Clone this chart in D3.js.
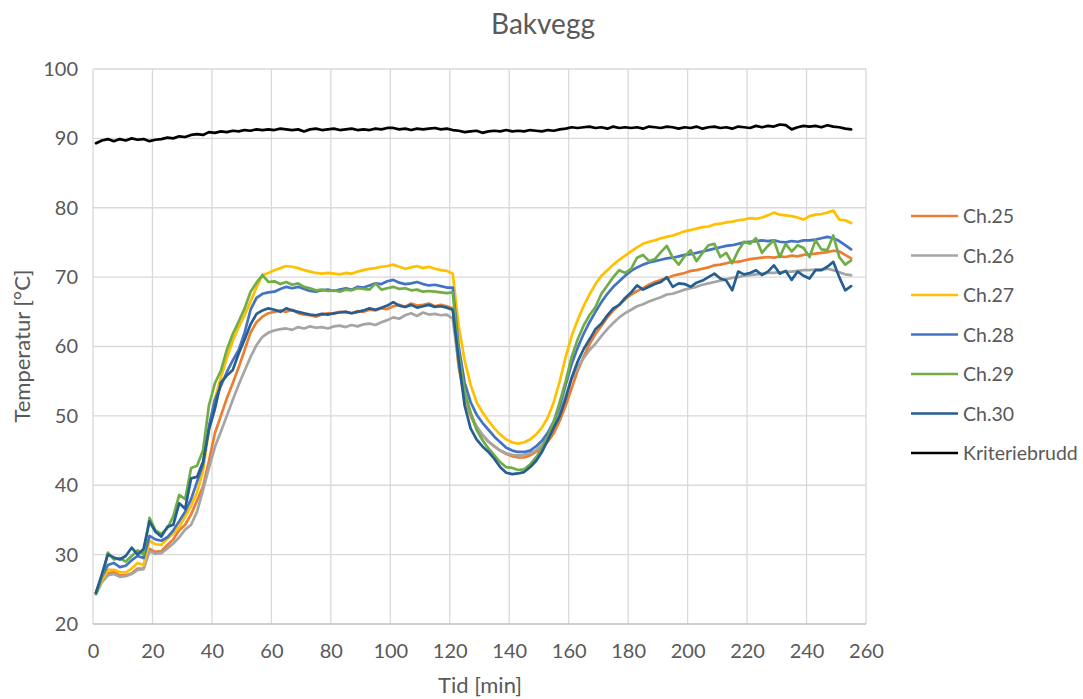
<!DOCTYPE html>
<html><head><meta charset="utf-8">
<script src="https://cdn.jsdelivr.net/npm/d3@7"></script>
<style>body{margin:0;background:#fff;}svg{display:block;font-family:Lato,"Open Sans",sans-serif;}</style>
</head><body><svg id="c" width="1083" height="699"></svg>
<script>
// time in minutes: every 2 min from 1 to 255
const time = d3.range(1, 256, 2);
const xTicks = [0,20,40,60,80,100,120,140,160,180,200,220,240,260];
const yTicks = [20,30,40,50,60,70,80,90,100];
const seriesNames = ["Ch.25","Ch.26","Ch.27","Ch.28","Ch.29","Ch.30","Kriteriebrudd"];
const ch25 = [24.5,26.5,27.3,27.5,27.0,27.0,27.3,28.0,28.0,30.8,
 30.4,30.5,31.4,32.2,33.5,34.3,35.8,37.8,39.8,43.5,
 47.5,50.0,52.5,54.7,57.0,59.5,62.0,63.5,64.3,64.8,
 65.0,65.2,65.0,65.3,64.8,64.6,64.5,64.3,64.6,64.8,
 64.7,65.0,65.0,64.8,65.1,65.0,65.3,65.2,65.5,65.4,
 65.8,66.0,65.7,66.2,65.9,66.0,66.2,65.8,66.0,65.8,
 65.5,57.0,52.5,50.0,48.3,47.2,46.3,45.6,45.0,44.5,
 44.2,44.0,44.0,44.3,44.8,45.5,46.3,47.5,49.3,51.5,
 54.0,56.5,58.5,60.3,61.8,63.0,64.2,65.2,66.0,66.8,
 67.5,68.0,68.4,68.9,69.3,69.6,69.8,70.2,70.4,70.6,
 70.9,71.0,71.2,71.4,71.7,71.8,72.0,72.2,72.2,72.4,
 72.6,72.7,72.8,72.9,72.8,73.0,72.9,73.1,73.0,73.2,
 73.3,73.4,73.5,73.6,73.8,73.7,73.2,72.7];
const ch26 = [24.3,26.0,27.0,27.2,26.8,26.9,27.2,27.8,27.9,30.5,
 30.1,30.2,30.9,31.6,32.5,33.6,34.3,36.2,39.3,42.5,
 45.5,47.7,50.0,52.3,54.5,56.5,58.5,60.2,61.4,62.0,
 62.3,62.5,62.6,62.4,62.8,62.6,62.9,62.7,62.8,62.6,
 62.9,63.0,62.8,63.1,62.9,63.2,63.3,63.1,63.5,63.8,
 64.2,64.0,64.5,64.8,64.4,64.9,64.6,64.7,64.5,64.6,
 64.0,57.5,53.0,50.3,48.5,47.3,46.3,45.6,45.0,44.6,
 44.4,44.3,44.4,44.6,45.0,45.8,47.0,48.5,50.5,53.0,
 55.3,57.0,58.3,59.5,60.4,61.5,62.5,63.4,64.2,64.8,
 65.3,65.8,66.1,66.5,66.8,67.1,67.5,67.6,67.9,68.2,
 68.4,68.6,68.9,69.1,69.3,69.5,69.7,69.9,70.0,70.2,
 70.3,70.4,70.5,70.6,70.6,70.7,70.8,70.8,70.9,71.0,
 71.0,71.1,71.1,71.2,71.0,70.7,70.4,70.3];
const ch27 = [24.5,26.3,27.8,27.8,27.5,27.4,28.0,28.8,28.5,32.0,
 31.5,31.4,32.3,33.0,34.0,35.5,37.0,39.0,42.0,48.0,
 52.5,55.5,58.3,60.8,62.8,64.5,66.5,68.5,70.3,70.6,
 71.0,71.3,71.6,71.5,71.3,71.0,70.8,70.6,70.5,70.6,
 70.5,70.4,70.6,70.5,70.8,71.0,71.2,71.3,71.5,71.6,
 71.8,71.5,71.2,71.4,71.6,71.3,71.5,71.2,71.0,70.9,
 70.5,63.0,58.0,54.5,52.0,50.5,49.3,48.2,47.3,46.6,
 46.2,46.0,46.2,46.6,47.3,48.3,49.8,52.0,55.0,58.5,
 61.5,63.8,65.8,67.5,69.0,70.2,71.0,71.8,72.5,73.1,
 73.7,74.3,74.8,75.1,75.3,75.6,75.8,76.0,76.3,76.6,
 76.8,77.0,77.2,77.3,77.6,77.7,77.9,78.0,78.2,78.3,
 78.5,78.4,78.6,78.9,79.3,79.0,78.9,78.8,78.6,78.3,
 78.8,79.0,79.1,79.3,79.6,78.3,78.2,77.8];
const ch28 = [24.5,26.8,28.5,28.8,28.2,28.4,29.2,29.8,29.5,32.7,
 32.2,32.0,32.5,33.5,34.8,36.2,38.0,40.5,43.0,48.5,
 52.3,54.3,56.3,58.0,59.5,62.0,65.3,67.0,67.6,67.8,
 67.9,68.3,68.6,68.4,68.6,68.3,68.0,67.9,68.1,68.2,
 68.0,68.2,68.4,68.2,68.6,68.5,68.8,69.1,69.0,69.4,
 69.6,69.2,69.0,69.1,69.3,69.0,68.8,68.9,68.7,68.5,
 68.5,60.0,54.8,52.0,50.2,49.0,48.0,47.0,46.2,45.4,
 45.0,44.8,44.8,45.0,45.6,46.4,47.6,49.2,51.5,54.5,
 57.5,59.8,61.8,63.5,65.0,66.4,67.6,68.6,69.4,70.2,
 70.9,71.4,71.8,72.1,72.3,72.5,72.7,72.8,73.0,73.2,
 73.3,73.5,73.7,73.9,74.1,74.3,74.5,74.6,74.8,75.0,
 75.1,75.2,75.3,75.2,75.3,75.1,75.0,75.2,75.1,75.3,
 75.3,75.4,75.6,75.8,75.6,75.2,74.6,74.0];
const ch29 = [24.3,26.8,30.3,29.3,29.5,29.0,29.8,30.6,30.0,35.3,
 33.5,33.0,33.8,35.5,38.6,38.0,42.5,42.8,45.0,51.5,
 54.7,56.5,59.5,61.8,63.6,65.5,67.9,69.2,70.3,69.3,
 69.4,69.0,69.3,68.9,69.1,68.6,68.4,68.1,68.2,68.0,
 68.1,67.9,68.2,68.1,68.4,68.3,68.2,69.1,68.2,68.4,
 68.6,68.3,68.4,68.1,68.2,67.9,68.0,67.9,67.8,67.7,
 67.8,59.0,53.5,50.5,48.0,46.5,45.3,44.3,43.3,42.6,
 42.5,42.2,42.3,43.0,44.0,45.3,47.0,49.2,52.0,55.0,
 58.5,61.0,63.0,64.5,65.7,67.6,68.8,70.0,71.0,70.6,
 71.2,72.8,73.2,72.3,72.6,73.6,74.5,72.8,71.8,73.0,
 73.9,72.3,73.5,74.6,74.8,72.9,73.5,72.0,73.8,75.1,
 74.8,75.6,73.5,74.5,75.3,72.9,74.8,73.7,74.6,74.2,
 72.9,75.3,74.0,73.9,76.0,72.9,71.8,72.4];
const ch30 = [24.5,27.2,30.0,29.6,29.3,29.8,31.0,30.0,30.8,34.8,
 33.3,32.6,34.0,34.3,37.4,36.6,41.0,41.2,43.4,48.0,
 51.0,54.8,55.8,56.6,59.0,61.0,63.2,64.7,65.2,65.5,
 65.3,65.0,65.5,65.2,65.0,64.8,64.6,64.5,64.7,64.6,
 64.8,64.9,65.0,64.8,65.0,65.2,65.5,65.3,65.6,65.9,
 66.4,65.9,65.7,66.0,65.6,65.8,66.0,65.7,65.8,65.6,
 65.3,58.0,51.5,48.2,46.6,45.6,44.8,43.8,42.6,41.8,
 41.6,41.7,41.9,42.6,43.5,44.8,46.5,48.3,50.0,52.5,
 55.5,57.8,59.6,61.0,62.5,63.3,64.5,65.5,66.0,67.0,
 67.8,68.8,68.2,68.6,69.0,69.3,70.0,68.6,69.1,69.0,
 68.6,69.2,69.5,70.0,70.5,69.8,69.5,68.1,70.8,70.4,
 70.6,71.0,70.3,70.8,71.7,70.5,70.9,69.6,70.8,70.2,
 69.8,71.0,71.0,71.5,72.2,70.0,68.1,68.7];
const krit = [89.3,89.7,89.9,89.6,89.9,89.7,90.0,89.8,89.9,89.6,
 89.8,89.9,90.1,90.0,90.3,90.2,90.5,90.6,90.5,90.9,
 90.8,91.0,90.9,91.1,91.0,91.2,91.1,91.3,91.2,91.3,
 91.2,91.4,91.3,91.2,91.3,91.0,91.3,91.4,91.2,91.3,
 91.4,91.2,91.3,91.4,91.2,91.3,91.2,91.4,91.3,91.5,
 91.5,91.3,91.4,91.2,91.4,91.3,91.4,91.5,91.3,91.4,
 91.2,91.1,90.9,91.0,91.1,90.8,91.0,91.1,91.0,91.2,
 91.0,91.1,91.0,91.2,91.1,91.0,91.2,91.1,91.3,91.4,
 91.6,91.5,91.6,91.7,91.5,91.6,91.4,91.7,91.5,91.6,
 91.5,91.6,91.4,91.7,91.6,91.5,91.7,91.6,91.4,91.6,
 91.5,91.7,91.4,91.6,91.7,91.5,91.6,91.4,91.7,91.6,
 91.5,91.8,91.6,91.8,91.7,92.0,91.9,91.3,91.6,91.8,
 91.7,91.8,91.6,91.9,91.7,91.6,91.4,91.3];
const seriesValues = [ch25, ch26, ch27, ch28, ch29, ch30, krit];
const colors = ["#ED7D31","#A5A5A5","#FFC000","#4472C4","#70AD47","#255E91","#000000"];

const svg = d3.select("#c");
const L = 93, R = 866, T = 69, B = 624;
const x = d3.scaleLinear().domain([0,260]).range([L,R]);
const y = d3.scaleLinear().domain([20,100]).range([B,T]);
const txt = "#595959";
const FONT = "Lato, 'Open Sans', sans-serif";

// gridlines
svg.append("g").selectAll("line").data(yTicks.filter(d=>d>20)).join("line")
  .attr("x1",L).attr("x2",R).attr("y1",d=>y(d)).attr("y2",d=>y(d))
  .attr("stroke","#d9d9d9").attr("stroke-width",1.3);
svg.append("g").selectAll("line").data(xTicks).join("line")
  .attr("x1",d=>x(d)).attr("x2",d=>x(d)).attr("y1",T).attr("y2",B)
  .attr("stroke","#d9d9d9").attr("stroke-width",1.3);
svg.append("line").attr("x1",L).attr("x2",R).attr("y1",B).attr("y2",B)
  .attr("stroke","#bfbfbf").attr("stroke-width",1.3);

// axes
const xAxis = d3.axisBottom(x).tickValues(xTicks).tickSize(0).tickPadding(20);
const gx = svg.append("g").attr("transform",`translate(0,${B})`).call(xAxis);
gx.select(".domain").remove();
gx.selectAll("text").attr("fill",txt).style("font-size","20px").style("font-family",FONT);
const yAxis = d3.axisLeft(y).tickValues(yTicks).tickSize(0).tickPadding(15);
const gy = svg.append("g").attr("transform",`translate(${L},0)`).call(yAxis);
gy.select(".domain").remove();
gy.selectAll("text").attr("fill",txt).style("font-size","20px").style("font-family",FONT);

// lines
const line = d3.line().x((d,i)=>x(time[i])).y(d=>y(d));
seriesValues.forEach((vals,k)=>{
  svg.append("path").datum(vals).attr("d",line)
    .attr("fill","none").attr("stroke",colors[k]).attr("stroke-width",2.7)
    .attr("stroke-linejoin","round").attr("stroke-linecap","round");
});

// title and labels
svg.append("text").attr("x",543).attr("y",34).attr("text-anchor","middle")
  .attr("fill",txt).style("font-size","28px").text("Bakvegg");
svg.append("text").attr("x",480).attr("y",693).attr("text-anchor","middle")
  .attr("fill",txt).style("font-size","22px").text("Tid [min]");
svg.append("text").attr("transform","translate(30,346) rotate(-90)").attr("text-anchor","middle")
  .attr("fill",txt).style("font-size","22px").text("Temperatur [°C]");

// legend
const lg = svg.append("g");
seriesNames.forEach((n,k)=>{
  const yy = 216 + k*39.5;
  lg.append("line").attr("x1",911).attr("x2",958).attr("y1",yy).attr("y2",yy)
    .attr("stroke",colors[k]).attr("stroke-width",2.7);
  lg.append("text").attr("x",963).attr("y",yy+7).attr("fill",txt)
    .style("font-size","19.5px").text(n);
});
</script></body></html>
